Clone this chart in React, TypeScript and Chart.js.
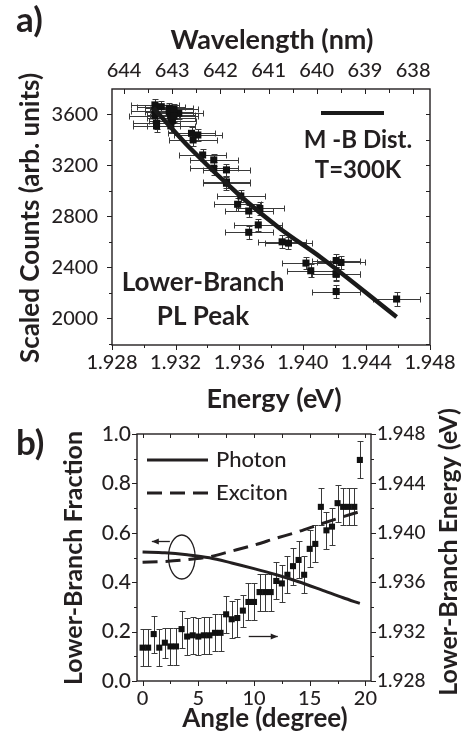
import { useEffect, useRef } from 'react';
import { Chart, registerables } from 'chart.js';

Chart.register(...registerables);

const FONT = 'Lato, "Open Sans", "DejaVu Sans", sans-serif';
const INK = '#231f20';

// ---------------- Panel a) : PL peak counts vs energy ----------------
const peakEnergy = [
  1.9307, 1.9307, 1.9318, 1.9307, 1.9311, 1.9308, 1.9308, 1.9322, 1.9316, 1.9317,
  1.9316, 1.9317, 1.9317, 1.9319, 1.9319, 1.9334, 1.9330, 1.9331, 1.9337, 1.9344,
  1.9344, 1.9352, 1.9352, 1.9352, 1.9361, 1.9359, 1.9366, 1.9373, 1.9372, 1.9366,
  1.9387, 1.9391, 1.9421, 1.9402, 1.9405, 1.9424, 1.9421, 1.9421, 1.9421, 1.9459,
];
const peakCounts = [
  3675, 3630, 3552, 3588, 3661, 3531, 3510, 3609, 3649, 3596,
  3620, 3510, 3570, 3640, 3585, 3439, 3452, 3400, 3282, 3243,
  3178, 3165, 3060, 3070, 2960, 2895, 2842, 2862, 2733, 2675,
  2600, 2590, 2453, 2433, 2373, 2438, 2345, 2210, 2350, 2151,
];
const peakEnergyErr = [
  0.0015, 0.0015, 0.0015, 0.0016, 0.0015, 0.0015, 0.0015, 0.0015, 0.0015, 0.0015,
  0.0015, 0.0015, 0.0015, 0.0015, 0.0015, 0.0015, 0.0015, 0.0015, 0.0015, 0.0015,
  0.0015, 0.0015, 0.0015, 0.0015, 0.0015, 0.0015, 0.0015, 0.0015, 0.0015, 0.0015,
  0.0015, 0.0015, 0.0015, 0.0015, 0.0015, 0.0015, 0.0015, 0.0015, 0.0015, 0.0015,
];
const peakCountsErr = [
  45, 45, 45, 45, 45, 45, 45, 45, 45, 45,
  45, 45, 45, 45, 45, 50, 50, 50, 50, 50,
  50, 50, 50, 50, 50, 50, 50, 50, 50, 50,
  50, 50, 50, 50, 50, 50, 50, 52, 50, 52,
];
const fitEnergy = [1.9306, 1.9329, 1.9360, 1.9386, 1.9411, 1.9459];
const fitCounts = [3651, 3337, 2968, 2701, 2481, 2010];

const energyTicks = [1.928, 1.932, 1.936, 1.94, 1.944, 1.948];
const energyMinorTicks = [1.93, 1.934, 1.938, 1.942, 1.946];
const countTicks = [2000, 2400, 2800, 3200, 3600];
const countMinorTicks = [1800, 2200, 2600, 3000, 3400];
const wavelengthTicks = [644, 643, 642, 641, 640, 639, 638];
const wavelengthMinorTicks = [643.5, 642.5, 641.5, 640.5, 639.5, 638.5];

// ---------------- Panel b) : fractions and energy vs angle ----------------
const angles = [
  0, 0.5, 1, 1.5, 2, 2.5, 3, 3.5, 4, 4.5, 5, 5.5, 6, 6.5, 7, 7.5, 8, 8.5, 9, 9.5,
  10, 10.5, 11, 11.5, 12, 12.5, 13, 13.5, 14, 14.5, 15, 15.5, 16, 16.5, 17, 17.5, 18, 18.5, 19, 19.5,
];
const branchEnergy = [
  1.9307, 1.9307, 1.9318, 1.9307, 1.9311, 1.9308, 1.9308, 1.9322, 1.9316, 1.9317,
  1.9316, 1.9317, 1.9317, 1.9319, 1.9319, 1.9334, 1.9330, 1.9331, 1.9337, 1.9344,
  1.9344, 1.9352, 1.9352, 1.9352, 1.9361, 1.9359, 1.9366, 1.9373, 1.9378, 1.9366,
  1.9387, 1.9391, 1.9421, 1.9402, 1.9405, 1.9424, 1.9421, 1.9421, 1.9421, 1.9459,
];
const branchEnergyErr = [
  0.0015, 0.0015, 0.0015, 0.0015, 0.0012, 0.0015, 0.0015, 0.0015, 0.0015, 0.0015,
  0.0015, 0.0015, 0.0015, 0.0015, 0.0015, 0.0015, 0.0015, 0.0015, 0.0013, 0.0015,
  0.0015, 0.0015, 0.0015, 0.0015, 0.0015, 0.0015, 0.0015, 0.0015, 0.0015, 0.0015,
  0.0015, 0.0015, 0.0015, 0.0015, 0.0015, 0.0015, 0.0015, 0.0015, 0.0015, 0.0015,
];
const curveAngles = [0, 2, 4, 6, 8, 10, 12, 14, 16, 18, 19.5];
const photonFraction = [0.522, 0.519, 0.511, 0.499, 0.478, 0.455, 0.43, 0.402, 0.37, 0.337, 0.314];
const excitonFraction = [0.481, 0.484, 0.491, 0.503, 0.526, 0.55, 0.578, 0.605, 0.636, 0.665, 0.686];

const angleTicks = [0, 5, 10, 15, 20];
const angleMinorTicks = [2.5, 7.5, 12.5, 17.5];
const fractionTicks = [0, 0.2, 0.4, 0.6, 0.8, 1.0];
const fractionMinorTicks = [0.1, 0.3, 0.5, 0.7, 0.9];
const energyTicksB = [1.928, 1.932, 1.936, 1.94, 1.944, 1.948];
const energyMinorTicksB = [1.93, 1.934, 1.938, 1.942, 1.946];

// ---------------- helpers ----------------
const errorBarPlugin = {
  id: 'errorBars',
  beforeDatasetDraw(chart: any, args: any) {
    const ds = chart.data.datasets[args.index];
    if (!ds.xErr && !ds.yErr) return;
    const meta = args.meta;
    const xs = chart.scales[meta.xAxisID];
    const ys = chart.scales[meta.yAxisID];
    const ctx = chart.ctx;
    const cap = ds.capHalf ?? 3;
    ctx.save();
    ctx.strokeStyle = ds.errorColor || '#333';
    ctx.lineWidth = 1;
    ctx.beginPath();
    ds.data.forEach((p: any, i: number) => {
      const px = Math.round(xs.getPixelForValue(p.x)) + 0.5;
      const py = Math.round(ys.getPixelForValue(p.y)) + 0.5;
      if (ds.xErr) {
        const e = ds.xErr[i];
        const x1 = Math.round(xs.getPixelForValue(p.x - e)) + 0.5;
        const x2 = Math.round(xs.getPixelForValue(p.x + e)) + 0.5;
        ctx.moveTo(x1, py); ctx.lineTo(x2, py);
        ctx.moveTo(x1, py - cap); ctx.lineTo(x1, py + cap);
        ctx.moveTo(x2, py - cap); ctx.lineTo(x2, py + cap);
      }
      if (ds.yErr) {
        const e = ds.yErr[i];
        const y1 = Math.round(ys.getPixelForValue(p.y - e)) + 0.5;
        const y2 = Math.round(ys.getPixelForValue(p.y + e)) + 0.5;
        ctx.moveTo(px, y1); ctx.lineTo(px, y2);
        ctx.moveTo(px - cap, y1); ctx.lineTo(px + cap, y1);
        ctx.moveTo(px - cap, y2); ctx.lineTo(px + cap, y2);
      }
    });
    ctx.stroke();
    ctx.restore();
  },
};

function tickMarks(ctx: CanvasRenderingContext2D, scale: any, values: number[], edge: string, len: number, area: any) {
  ctx.beginPath();
  values.forEach((v) => {
    const p = Math.round(scale.getPixelForValue(v)) + 0.5;
    if (edge === 'bottom') { ctx.moveTo(p, area.bottom); ctx.lineTo(p, area.bottom + len); }
    if (edge === 'top') { ctx.moveTo(p, area.top); ctx.lineTo(p, area.top - len); }
    if (edge === 'left') { ctx.moveTo(area.left, p); ctx.lineTo(area.left - len, p); }
    if (edge === 'right') { ctx.moveTo(area.right, p); ctx.lineTo(area.right + len, p); }
  });
  ctx.stroke();
}

function label(ctx: CanvasRenderingContext2D, s: string, x: number, y: number, font: string, align: CanvasTextAlign = 'center', rot = 0) {
  ctx.save();
  ctx.translate(x, y);
  if (rot) ctx.rotate(rot);
  ctx.font = font;
  ctx.textAlign = align;
  ctx.textBaseline = 'middle';
  ctx.fillStyle = INK;
  ctx.fillText(s, 0, 0);
  ctx.restore();
}

function axis(values: number[], fmt: (v: number) => string, fontSize: number, pad: number, size: number, isX: boolean, extra: any = {}) {
  return {
    type: 'linear',
    axis: isX ? 'x' : 'y',
    grid: { display: false, drawTicks: false },
    border: { display: false },
    ticks: {
      autoSkip: false,
      maxRotation: 0,
      minRotation: 0,
      padding: pad,
      color: INK,
      font: { family: FONT, size: fontSize, weight: '500' },
      callback: (v: any) => fmt(Number(v)),
    },
    afterBuildTicks: (s: any) => { s.ticks = values.map((v) => ({ value: v })); },
    afterFit: (s: any) => {
      if (isX) s.height = size; else s.width = size;
      s.paddingLeft = 0; s.paddingRight = 0; s.paddingTop = 0; s.paddingBottom = 0;
    },
    ...extra,
  };
}

function configA(): any {
  const decor = {
    id: 'decorA',
    afterDraw(chart: any) {
      const ctx = chart.ctx as CanvasRenderingContext2D;
      const area = chart.chartArea;
      const x = chart.scales.x, xt = chart.scales.xTop, y = chart.scales.y;
      ctx.save();
      ctx.strokeStyle = INK;
      ctx.lineWidth = 1.4;
      ctx.strokeRect(area.left, area.top, area.right - area.left, area.bottom - area.top);
      ctx.lineWidth = 1;
      tickMarks(ctx, x, energyTicks, 'bottom', 5, area);
      tickMarks(ctx, x, energyMinorTicks, 'bottom', 3, area);
      tickMarks(ctx, y, countTicks, 'left', 5, area);
      tickMarks(ctx, y, countMinorTicks, 'left', 3, area);
      tickMarks(ctx, y, countTicks.concat(countMinorTicks), 'right', -4, area);
      tickMarks(ctx, xt, wavelengthTicks, 'top', -5, area);
      tickMarks(ctx, xt, wavelengthMinorTicks, 'top', -4, area);

      const B26 = `bold 26px ${FONT}`;
      const B24 = `bold 24px ${FONT}`;
      label(ctx, 'a)', 16, 21, `bold 35px ${FONT}`, 'left');
      label(ctx, 'Wavelength (nm)', 272, 40, `bold 27px ${FONT}`);
      label(ctx, 'Scaled Counts (arb. units)', 31, 218, B26, 'center', -Math.PI / 2);
      label(ctx, 'Energy (eV)', 274, 399, `bold 27px ${FONT}`);

      ctx.strokeStyle = '#1a1a1a';
      ctx.lineWidth = 4;
      ctx.beginPath();
      ctx.moveTo(321, 113); ctx.lineTo(384, 113);
      ctx.stroke();
      label(ctx, 'M -B Dist.', 358, 140, B24);
      label(ctx, 'T=300K', 358, 170, B24);
      label(ctx, 'Lower-Branch', 203, 283, B26);
      label(ctx, 'PL Peak', 203, 317, B26);
      ctx.restore();
    },
  };
  return {
    type: 'scatter',
    data: {
      datasets: [
        {
          label: 'M-B Dist. T=300K',
          data: fitEnergy.map((e, i) => ({ x: e, y: fitCounts[i] })),
          showLine: true,
          borderColor: '#1a1a1a',
          borderWidth: 4.5,
          pointRadius: 0,
          cubicInterpolationMode: 'monotone',
          xAxisID: 'x',
          yAxisID: 'y',
        },
        {
          label: 'Lower-Branch PL Peak',
          data: peakEnergy.map((e, i) => ({ x: e, y: peakCounts[i] })),
          xErr: peakEnergyErr,
          yErr: peakCountsErr,
          capHalf: 3,
          errorColor: '#3a3a3a',
          pointStyle: 'rect',
          pointRadius: 5,
          backgroundColor: '#111',
          borderColor: '#111',
          borderWidth: 0,
          xAxisID: 'x',
          yAxisID: 'y',
        },
      ],
    },
    options: {
      animation: false,
      responsive: false,
      maintainAspectRatio: false,
      layout: { padding: { left: 0, right: 41, top: 0, bottom: 0 } },
      plugins: { legend: { display: false }, tooltip: { enabled: false } },
      scales: {
        x: axis(energyTicks, (v) => v.toFixed(3), 20, 6, 85, true, { position: 'bottom', min: 1.928, max: 1.948 }),
        xTop: axis(wavelengthTicks, (v) => v.toFixed(0), 20, 6, 89, true, { position: 'top', min: 637.65, max: 644.25, reverse: true }),
        y: axis(countTicks, (v) => v.toFixed(0), 20, 14, 112, false, { position: 'left', min: 1790, max: 3800 }),
      },
    },
    plugins: [errorBarPlugin, decor],
  };
}

function configB(): any {
  const decor = {
    id: 'decorB',
    afterDraw(chart: any) {
      const ctx = chart.ctx as CanvasRenderingContext2D;
      const area = chart.chartArea;
      const x = chart.scales.x, yL = chart.scales.yL, yR = chart.scales.yR;
      ctx.save();
      ctx.strokeStyle = INK;
      ctx.lineWidth = 1.4;
      ctx.strokeRect(area.left, area.top, area.right - area.left, area.bottom - area.top);
      ctx.lineWidth = 1;
      tickMarks(ctx, x, angleTicks, 'bottom', 5, area);
      tickMarks(ctx, x, angleMinorTicks, 'bottom', 3, area);
      tickMarks(ctx, x, angleTicks.concat(angleMinorTicks), 'top', -4, area);
      tickMarks(ctx, yL, fractionTicks, 'left', 5, area);
      tickMarks(ctx, yL, fractionMinorTicks, 'left', 3, area);
      tickMarks(ctx, yR, energyTicksB, 'right', 5, area);
      tickMarks(ctx, yR, energyMinorTicksB, 'right', 3, area);

      const B25 = `bold 25px ${FONT}`;
      label(ctx, 'b)', 16, 44, `bold 35px ${FONT}`, 'left');
      label(ctx, 'Lower-Branch Fraction', 74, 158, B25, 'center', -Math.PI / 2);
      label(ctx, 'Lower-Branch Energy (eV)', 449, 152, B25, 'center', -Math.PI / 2);
      label(ctx, 'Angle (degree)', 265, 319, `bold 26px ${FONT}`);

      // legend
      ctx.strokeStyle = INK;
      ctx.lineWidth = 3;
      ctx.beginPath(); ctx.moveTo(147, 60); ctx.lineTo(208, 60); ctx.stroke();
      ctx.setLineDash([15, 8]);
      ctx.beginPath(); ctx.moveTo(147, 93); ctx.lineTo(208, 93); ctx.stroke();
      ctx.setLineDash([]);
      label(ctx, 'Photon', 216, 60, `500 22px ${FONT}`, 'left');
      label(ctx, 'Exciton', 216, 93, `500 22px ${FONT}`, 'left');

      // ellipse marking fraction curves, with arrows
      ctx.lineWidth = 1.3;
      const cx = x.getPixelForValue(3.52), cy = yL.getPixelForValue(0.502);
      ctx.beginPath();
      ctx.ellipse(cx, cy, 13.3, 22, 0, 0, Math.PI * 2);
      ctx.stroke();
      const arrow = (x1: number, x2: number, yy: number) => {
        ctx.beginPath(); ctx.moveTo(x1, yy); ctx.lineTo(x2, yy); ctx.stroke();
        const d = x2 > x1 ? -1 : 1;
        ctx.beginPath();
        ctx.moveTo(x2, yy); ctx.lineTo(x2 + d * 7, yy - 3); ctx.lineTo(x2 + d * 7, yy + 3); ctx.closePath();
        ctx.fillStyle = INK; ctx.fill();
      };
      arrow(x.getPixelForValue(2.45), x.getPixelForValue(0.83), Math.round(yL.getPixelForValue(0.567)) + 0.5);
      arrow(x.getPixelForValue(9.53), x.getPixelForValue(12.13), Math.round(yL.getPixelForValue(0.181)) + 0.5);
      ctx.restore();
    },
  };
  return {
    type: 'scatter',
    data: {
      datasets: [
        {
          label: 'Photon',
          data: curveAngles.map((a, i) => ({ x: a, y: photonFraction[i] })),
          showLine: true,
          borderColor: INK,
          borderWidth: 3,
          pointRadius: 0,
          cubicInterpolationMode: 'monotone',
          xAxisID: 'x',
          yAxisID: 'yL',
        },
        {
          label: 'Exciton',
          data: curveAngles.map((a, i) => ({ x: a, y: excitonFraction[i] })),
          showLine: true,
          borderColor: INK,
          borderWidth: 3,
          borderDash: [15, 8],
          pointRadius: 0,
          cubicInterpolationMode: 'monotone',
          xAxisID: 'x',
          yAxisID: 'yL',
        },
        {
          label: 'Lower-Branch Energy',
          data: angles.map((a, i) => ({ x: a, y: branchEnergy[i] })),
          yErr: branchEnergyErr,
          capHalf: 3,
          errorColor: '#3a3a3a',
          pointStyle: 'rect',
          pointRadius: 4.3,
          backgroundColor: '#111',
          borderColor: '#111',
          borderWidth: 0,
          xAxisID: 'x',
          yAxisID: 'yR',
        },
      ],
    },
    options: {
      animation: false,
      responsive: false,
      maintainAspectRatio: false,
      layout: { padding: { left: 0, right: 0, top: 34, bottom: 0 } },
      plugins: { legend: { display: false }, tooltip: { enabled: false } },
      scales: {
        x: axis(angleTicks, (v) => v.toFixed(0), 20, 6, 65, true, { position: 'bottom', min: -0.5, max: 20.5 }),
        yL: axis(fractionTicks, (v) => v.toFixed(1), 21, 6, 137, false, { position: 'left', min: 0, max: 1 }),
        yR: axis(energyTicksB, (v) => v.toFixed(3), 19, 6, 100, false, { position: 'right', min: 1.928, max: 1.948 }),
      },
    },
    plugins: [errorBarPlugin, decor],
  };
}

export default function App() {
  const refA = useRef<HTMLCanvasElement>(null);
  const refB = useRef<HTMLCanvasElement>(null);
  useEffect(() => {
    const a = new Chart(refA.current as HTMLCanvasElement, configA());
    const b = new Chart(refB.current as HTMLCanvasElement, configB());
    return () => {
      a.destroy();
      b.destroy();
    };
  }, []);
  return (
    <div style={{ position: 'absolute', left: 0, top: 0, width: 471, height: 746, background: '#fff', overflow: 'hidden' }}>
      <canvas ref={refA} width={471} height={430} style={{ position: 'absolute', left: 0, top: 0, width: 471, height: 430 }} />
      <canvas ref={refB} width={471} height={346} style={{ position: 'absolute', left: 0, top: 400, width: 471, height: 346 }} />
    </div>
  );
}
